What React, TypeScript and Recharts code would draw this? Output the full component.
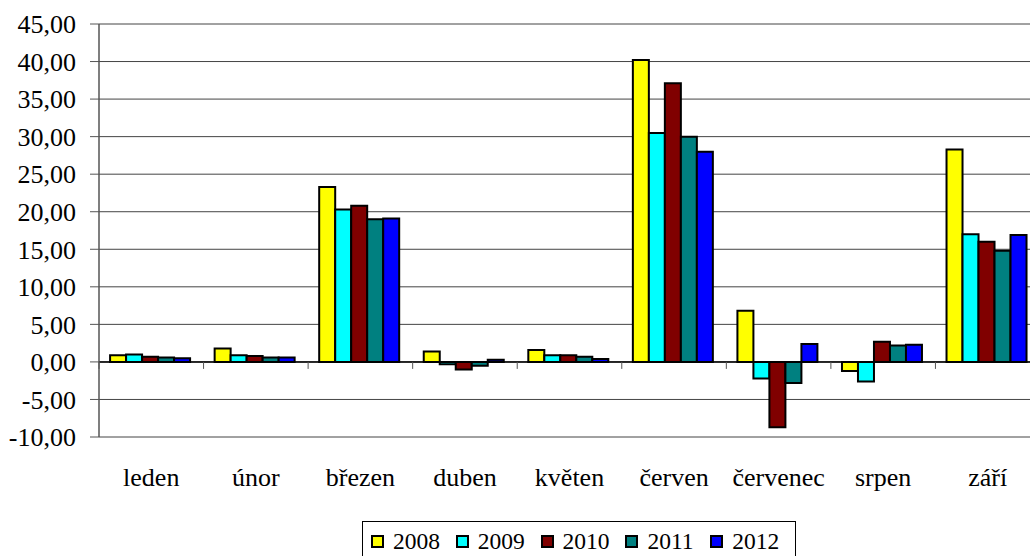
import React from 'react';
import {
  BarChart,
  Bar,
  XAxis,
  YAxis,
  CartesianGrid,
  ReferenceLine,
  Legend,
} from 'recharts';

const months = ['leden', 'únor', 'březen', 'duben', 'květen', 'červen', 'červenec', 'srpen', 'září'];
const v2008 = [0.9, 1.8, 23.3, 1.4, 1.6, 40.2, 6.8, -1.2, 28.3];
const v2009 = [1.0, 0.9, 20.3, -0.3, 0.9, 30.5, -2.2, -2.6, 17.0];
const v2010 = [0.7, 0.8, 20.8, -1.0, 0.9, 37.1, -8.7, 2.7, 16.0];
const v2011 = [0.6, 0.6, 19.0, -0.5, 0.7, 30.0, -2.8, 2.2, 14.8];
const v2012 = [0.5, 0.6, 19.1, 0.3, 0.4, 28.0, 2.4, 2.3, 16.9];
const yTicks = [-10, -5, 0, 5, 10, 15, 20, 25, 30, 35, 40, 45];

const series = [
  { key: '2008', values: v2008, color: '#ffff00' },
  { key: '2009', values: v2009, color: '#00ffff' },
  { key: '2010', values: v2010, color: '#800000' },
  { key: '2011', values: v2011, color: '#008080' },
  { key: '2012', values: v2012, color: '#0000ff' },
];

const data = months.map((m, i) => {
  const row: Record<string, string | number> = { month: m };
  series.forEach((s) => (row[s.key] = s.values[i]));
  return row;
});

const W = 1050;
const H = 556;
const M = { top: 24, right: 10, left: 0, bottom: 0 };
const Y_W = 99;
const X_H = 119;
const PLOT_W = W - M.left - M.right - Y_W;
const PLOT_H = H - M.top - M.bottom - X_H;
const Y_MIN = -10;
const Y_MAX = 45;
const BAND = PLOT_W / months.length;
const ZERO_Y = M.top + (PLOT_H * Y_MAX) / (Y_MAX - Y_MIN);

const FONT = "'Liberation Serif', 'Times New Roman', Tinos, 'DejaVu Serif', 'Noto Serif', serif";

const fmt = (v: number) => v.toFixed(2).replace('.', ',');

function MonthTick(props: any) {
  const { x, y, payload, index } = props;
  return (
    <g>
      {index === 0 && (
        <line x1={x - BAND / 2} x2={x - BAND / 2} y1={ZERO_Y} y2={ZERO_Y + 7} stroke="#555" />
      )}
      <line x1={x + BAND / 2} x2={x + BAND / 2} y1={ZERO_Y} y2={ZERO_Y + 7} stroke="#555" />
      <text x={x} y={y + 49} textAnchor="middle" fill="#000" style={{ fontSize: 26, fontFamily: FONT }}>
        {payload.value}
      </text>
    </g>
  );
}

function YTick(props: any) {
  const { x, y, payload } = props;
  return (
    <text x={x} y={y} dy="0.355em" textAnchor="end" fill="#000" style={{ fontSize: 26, fontFamily: FONT }}>
      {fmt(payload.value)}
    </text>
  );
}

function LegendBox(props: any) {
  const items = props.payload || [];
  return (
    <div
      style={{
        border: '1px solid #000',
        height: 60,
        boxSizing: 'border-box',
        paddingLeft: 8,
        paddingTop: 6,
        display: 'flex',
        fontFamily: FONT,
        fontSize: 23.5,
        background: '#fff',
      }}
    >
      {items.map((it: any) => (
        <div key={it.value} style={{ display: 'flex', alignItems: 'center', width: 85.7, height: 26 }}>
          <span
            style={{
              display: 'inline-block',
              width: 9,
              height: 9,
              border: '2px solid #000',
              background: it.color,
              marginRight: 9,
            }}
          />
          <span style={{ lineHeight: '26px' }}>{it.value}</span>
        </div>
      ))}
    </div>
  );
}

export default function App() {
  return (
    <div
      style={{
        position: 'absolute',
        left: 0,
        top: 0,
        width: 1030,
        height: 556,
        overflow: 'hidden',
        background: '#fff',
      }}
    >
      <BarChart width={W} height={H} data={data} margin={M} barCategoryGap="10.6%" barGap={0}>
        <CartesianGrid vertical={false} stroke="#444" strokeWidth={1} />
        <XAxis
          dataKey="month"
          axisLine={false}
          tickLine={false}
          tickSize={0}
          tickMargin={0}
          height={X_H}
          interval={0}
          tick={<MonthTick />}
        />
        <YAxis
          domain={[Y_MIN, Y_MAX]}
          ticks={yTicks}
          width={Y_W}
          tickSize={9}
          tickMargin={14}
          axisLine={{ stroke: '#555', strokeWidth: 1.5 }}
          tickLine={{ stroke: '#555' }}
          tick={<YTick />}
          interval={0}
        />
        <ReferenceLine y={0} stroke="#000" strokeWidth={1.5} />
        {series.map((s) => (
          <Bar
            key={s.key}
            dataKey={s.key}
            name={s.key}
            fill={s.color}
            stroke="#000"
            strokeWidth={2}
            isAnimationActive={false}
          />
        ))}
        <Legend
          layout="horizontal"
          verticalAlign="middle"
          align="center"
          content={<LegendBox />}
          wrapperStyle={{ left: 362, top: 521, width: 434 }}
        />
      </BarChart>
    </div>
  );
}
